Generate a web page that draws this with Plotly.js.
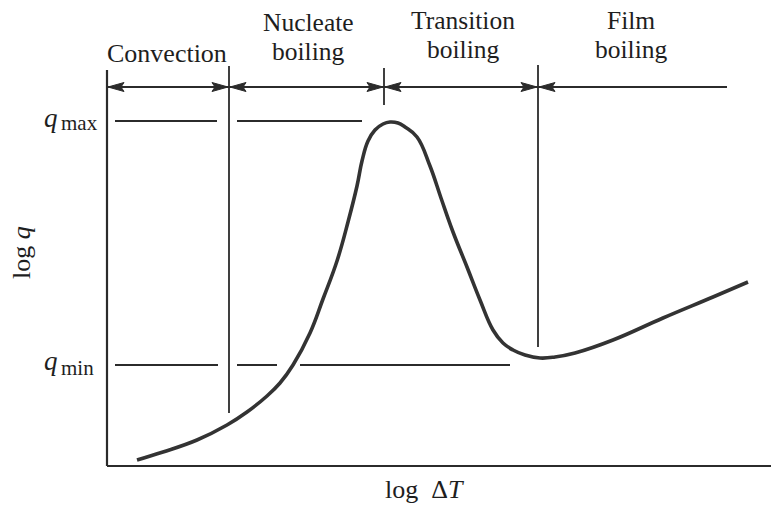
<!DOCTYPE html>
<html><head><meta charset="utf-8">
<script src="https://cdn.plot.ly/plotly-3.0.1.min.js"></script>
<style>html,body{margin:0;padding:0;background:#fff;}#chart{width:771px;height:508px;}</style>
</head><body><div id="chart"></div>
<script>
// Boiling curve (arbitrary log units)
const logDT = [30,56,90,120,140,160,173,186,203,216,230,241,250,255,261,268,276,283,291,298,310,323,334,346,360,373,386,396,406,418,433,448,468,506,556,606,641];
const logQ  = [6,14,26,41,54,70,83,101,133,167,205,244,280,305,325,336,342,344,343,339,329,300,268,234,199,166,136,123,116,111,108,109,113,126,148,169,184];

// Regime boundaries on log ΔT axis and their labels
const boundaries = [0, 122, 277, 431];
const boundaryTops = [398, 400, 398, 401];
const boundaryBottoms = [0, 53, 361, 119];
const regionEnd = 620;
const regionArrowY = 379;
const regionLabels = [["Convection"], ["Nucleate", "boiling"], ["Transition", "boiling"], ["Film", "boiling"]];
const regionLabelX = [60, 201, 356, 524];

// Reference heat-flux levels
const qMax = 345;
const qMin = 101;
const qMaxSegments = [[8, 110], [130, 255]];
const qMinSegments = [[8, 111], [130, 170], [193, 403]];

const ink = '#2b2b2b';
const txt = '#1e1e1e';
const font = 'Liberation Serif, Times New Roman, serif';
const XR = [-4, 664], YR = [-4, 406];
const toPX = x => (x - XR[0]) / (XR[1] - XR[0]);
const toPY = y => (y - YR[0]) / (YR[1] - YR[0]);
const traces = [];
const shapes = [];

// axes
shapes.push({type:'line', xref:'x', yref:'y', x0:0, x1:0, y0:0, y1:396, line:{color:ink, width:2.2}});
shapes.push({type:'line', xref:'x', yref:'y', x0:0, x1:664, y0:0, y1:0, line:{color:ink, width:2.2}});

// boundary verticals
for (let i = 1; i < boundaries.length; i++) {
  shapes.push({type:'line', xref:'x', yref:'y', x0:boundaries[i], x1:boundaries[i], y0:boundaryBottoms[i], y1:boundaryTops[i], line:{color:ink, width:1.8}});
}
// region arrow line
shapes.push({type:'line', xref:'x', yref:'y', x0:boundaries[0], x1:regionEnd, y0:regionArrowY, y1:regionArrowY, line:{color:ink, width:2}});

// q level segments
qMaxSegments.forEach(s => shapes.push({type:'line', xref:'x', yref:'y', x0:s[0], x1:s[1], y0:qMax, y1:qMax, line:{color:ink, width:2}}));
qMinSegments.forEach(s => shapes.push({type:'line', xref:'x', yref:'y', x0:s[0], x1:s[1], y0:qMin, y1:qMin, line:{color:ink, width:2}}));

// arrowheads
const L = 16, HW = 4.5, N = 3;
function head(tipX, dir) {
  const xs = [tipX, tipX + dir*L, tipX + dir*(L-N), tipX + dir*L, tipX];
  const ys = [regionArrowY, regionArrowY + HW, regionArrowY, regionArrowY - HW, regionArrowY];
  traces.push({x:xs, y:ys, mode:'lines', fill:'toself', fillcolor:ink, line:{color:ink, width:1}, hoverinfo:'skip', showlegend:false});
}
boundaries.forEach((b, i) => {
  head(b + 1, 1);
  if (i > 0) head(b - 1, -1);
});

// boiling curve
traces.push({x:logDT, y:logQ, mode:'lines', line:{color:'#333', width:3.6, shape:'spline', smoothing:1.2}, hoverinfo:'skip', showlegend:false});

// annotations (paper coordinates derived from data units)
const ann = [];
function note(x, y, text, size, opts) {
  ann.push(Object.assign({x:toPX(x), y:toPY(y), xref:'paper', yref:'paper', text:text, showarrow:false,
    xanchor:'center', yanchor:'middle', borderpad:0, font:{family:font, size:size, color:txt}}, opts || {}));
}
const lineY = [[412], [443.4, 414.4], [445.9, 416.9], [445.9, 416.9]];
regionLabels.forEach((lines, i) => {
  lines.forEach((t, j) => note(regionLabelX[i], lineY[i][j], t, lines.length > 1 ? 25.5 : 26));
});
[[qMax, 'max', 3, -2], [qMin, 'min', 4, -3]].forEach(([qy, sub, dq, ds]) => {
  note(-48, qy + dq, '<i>q</i>', 27, {xanchor:'right'});
  note(-47, qy + ds, sub, 21, {xanchor:'left'});
});
note(317, -23, 'log&nbsp;&nbsp;Δ<i>T</i>', 26);
note(-86, 213, 'log <i>q</i>', 26, {textangle:-90});

const layout = {
  width:771, height:508,
  margin:{l:103, r:0, t:60, b:38},
  paper_bgcolor:'#fff', plot_bgcolor:'#fff',
  xaxis:{range:XR, visible:false, fixedrange:true},
  yaxis:{range:YR, visible:false, fixedrange:true},
  shapes:shapes, annotations:ann, showlegend:false, hovermode:false
};
Plotly.newPlot('chart', traces, layout, {staticPlot:true, displayModeBar:false});
</script></body></html>
